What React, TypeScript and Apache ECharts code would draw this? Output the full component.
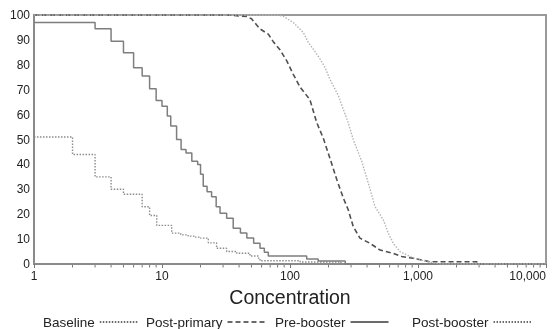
import React, { useEffect, useRef } from "react";
import * as echarts from "echarts";

const xTickValues = [1, 10, 100, 1000, 10000];
const minorTickValues = [
  2, 3, 4, 5, 6, 7, 8, 9,
  20, 30, 40, 50, 60, 70, 80, 90,
  200, 300, 400, 500, 600, 700, 800, 900,
  2000, 3000, 4000, 5000, 6000, 7000, 8000, 9000,
];
const seriesNames = ["Baseline", "Post-primary", "Pre-booster", "Post-booster"];

const baselineX = [1, 2, 3, 4, 5, 7, 8, 9.1, 11.9, 14, 16, 18, 20, 23, 26.7, 32, 38.4, 48.7, 56.8, 58.3, 120, 250, 10000];
const baselineY = [51, 44, 35, 30, 28, 23, 19.5, 15.5, 12.4, 11.7, 11.2, 10.8, 10.4, 8.5, 6.3, 5, 4.3, 3.2, 2.3, 1.3, 0.8, 0, 0];

const preBoosterX = [1, 3, 4, 5, 6, 7, 8, 9, 10, 11, 11.7, 13, 14.1, 15.4, 17.1, 19, 20, 21, 22.5, 24.4, 26.5, 28.4, 32, 36, 41, 46, 52, 58.3, 63, 67.7, 135, 166, 270, 10000];
const preBoosterY = [97, 94.5, 89.5, 84.8, 78.8, 75.5, 70.4, 65.7, 63.4, 59.4, 55.4, 50, 46, 44.6, 41.3, 40, 36, 31.2, 29, 27, 23, 20.4, 18.4, 14.4, 12.4, 10.4, 8.3, 6.3, 4.7, 3.2, 2, 1.2, 0, 0];

const postPrimaryX = [1, 32, 46, 50, 58.3, 67.7, 74, 83.5, 94.3, 106, 120, 143, 162, 182, 205, 232, 261, 285, 312, 352, 422, 505, 641, 746, 918, 1241, 2875, 3000, 10000];
const postPrimaryY = [100, 100, 99.4, 98.5, 94.4, 92.3, 89.3, 86, 81.6, 76.2, 71, 66, 56.7, 50.5, 42.5, 33.9, 26.5, 21.8, 15, 10.4, 8.3, 5.6, 4.3, 3, 2.3, 0.9, 0.9, 0, 0];

const postBoosterX = [1, 78, 88.6, 106, 127, 139, 152, 172, 188, 205, 225, 239, 261, 285, 312, 363, 409, 461, 536, 586, 641, 723, 866, 1037, 1200, 1500, 10000];
const postBoosterY = [100, 100, 99.5, 97, 93, 89, 86.3, 82.3, 78.9, 74.2, 70.2, 67.5, 62.1, 56.7, 50, 41.3, 32.5, 23.1, 17.7, 12.4, 8.3, 5, 3, 1.6, 0.9, 0, 0];

const zip = (xs: number[], ys: number[]) => xs.map((x, i) => [x, ys[i]]);

const FONT = "Liberation Sans, Arial, sans-serif";

export default function App() {
  const ref = useRef<HTMLDivElement>(null);
  useEffect(() => {
    if (!ref.current) return;
    const chart = echarts.init(ref.current, undefined, { renderer: "svg" });
    const legendPos = [43, 146, 275, 412];
    chart.setOption({
      animation: false,
      grid: {
        left: 34,
        right: 9,
        top: 15,
        bottom: 65,
        show: true,
        borderColor: "#9a9a9a",
        borderWidth: 2,
      },
      legend: seriesNames.map((n, i) => ({
        data: [n],
        left: legendPos[i],
        top: 315,
        align: "right",
        itemWidth: 38,
        itemHeight: 8,
        padding: 0,
        itemStyle: { opacity: 0 },
        lineStyle: { width: 1.3, color: "#3a3a3a" },
        textStyle: { fontSize: 13.5, color: "#222", fontFamily: FONT },
      })),
      xAxis: {
        type: "log",
        logBase: 10,
        min: 1,
        max: 10000,
        name: "Concentration",
        nameLocation: "middle",
        nameGap: 21,
        nameTextStyle: { fontSize: 19.5, color: "#222", fontFamily: FONT },
        axisLine: { lineStyle: { color: "#8a8a8a", width: 2 } },
        axisTick: { length: 4, lineStyle: { color: "#777" } },
        axisLabel: {
          fontSize: 12,
          color: "#222",
          fontFamily: FONT,
          margin: 6,
          alignMaxLabel: "right",
          formatter: (v: number) =>
            xTickValues.includes(Math.round(v)) ? Math.round(v).toLocaleString("en-US") : "",
        },
        splitLine: { show: false },
      },
      yAxis: {
        type: "value",
        min: 0,
        max: 100,
        interval: 10,
        axisLine: { show: true, lineStyle: { color: "#8a8a8a", width: 2 } },
        axisTick: { show: false },
        axisLabel: { fontSize: 12, color: "#222", fontFamily: FONT, margin: 4 },
        splitLine: { show: false },
      },
      series: [
        {
          name: "Baseline",
          type: "line",
          step: "end",
          symbol: "none",
          data: zip(baselineX, baselineY),
          lineStyle: { color: "#8c8c8c", width: 1.4, type: [1.5, 1.5] },
          itemStyle: { color: "#8c8c8c" },
        },
        {
          name: "Post-primary",
          type: "line",
          symbol: "none",
          data: zip(postPrimaryX, postPrimaryY),
          lineStyle: { color: "#505050", width: 1.6, type: [5, 3] },
          itemStyle: { color: "#505050" },
        },
        {
          name: "Pre-booster",
          type: "line",
          step: "end",
          symbol: "none",
          data: zip(preBoosterX, preBoosterY),
          lineStyle: { color: "#7e7e7e", width: 1.5 },
          itemStyle: { color: "#7e7e7e" },
        },
        {
          name: "Post-booster",
          type: "line",
          symbol: "none",
          data: zip(postBoosterX, postBoosterY),
          lineStyle: { color: "#b4b4b4", width: 1.4, type: [1.5, 1.5] },
          itemStyle: { color: "#b4b4b4" },
        },
        {
          name: "minorTicks",
          type: "custom",
          silent: true,
          clip: false,
          data: minorTickValues.map((v) => [v, 0]),
          renderItem: (params: any, api: any) => {
            const p = api.coord([api.value(0), 0]);
            return {
              type: "line",
              shape: { x1: p[0], y1: p[1] + 1, x2: p[0], y2: p[1] + 3.5 },
              style: { stroke: "#777", lineWidth: 1 },
            };
          },
        },
      ],
    });
    return () => chart.dispose();
  }, []);
  return (
    <div
      ref={ref}
      style={{ position: "fixed", left: 0, top: 0, width: 555, height: 329 }}
    />
  );
}
